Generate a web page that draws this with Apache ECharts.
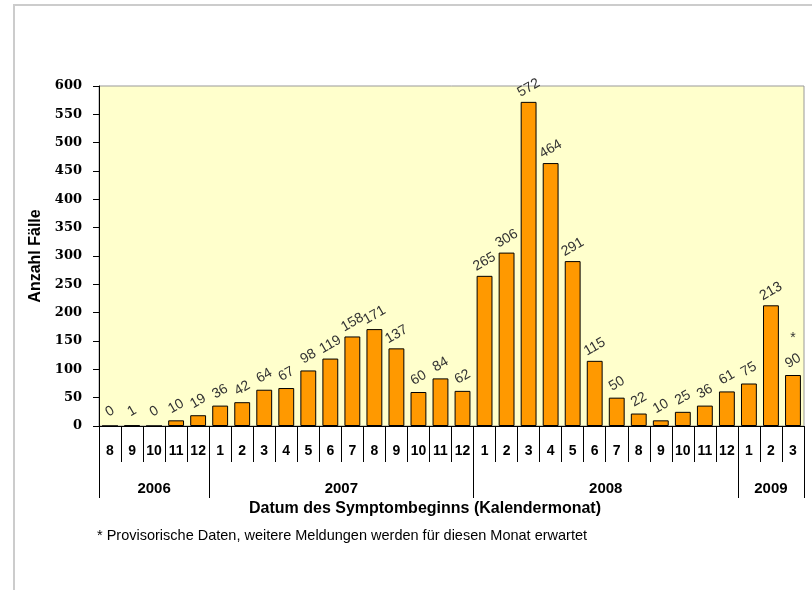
<!DOCTYPE html>
<html>
<head>
<meta charset="utf-8">
<script src="https://cdn.jsdelivr.net/npm/echarts@6/dist/echarts.min.js"></script>
<style>
  html, body { margin: 0; padding: 0; background: #fff; }
  #chart { width: 812px; height: 590px; }
</style>
</head>
<body>
<div id="chart"></div>
<script>
// Monthly case counts by month of symptom onset, Aug 2006 – Mar 2009
const months = ['8','9','10','11','12',
  '1','2','3','4','5','6','7','8','9','10','11','12',
  '1','2','3','4','5','6','7','8','9','10','11','12',
  '1','2','3'];
const cases = [0, 1, 0, 10, 19,
  36, 42, 64, 67, 98, 119, 158, 171, 137, 60, 84, 62,
  265, 306, 572, 464, 291, 115, 50, 22, 10, 25, 36, 61,
  75, 213, 90];
// Year groups: boundaries in month-slot units and label centres
const years = ['2006', '2007', '2008', '2009'];
const yearBounds = [0, 5, 17, 29, 32];
const yearCentres = [2.5, 11, 23, 30.5];
const yTicks = { min: 0, max: 600, step: 50 };
const provisionalIndex = 31;

const SANS = '"Liberation Sans", Arial, sans-serif';

const chart = echarts.init(document.getElementById('chart'), null, { renderer: 'canvas' });

const option = {
  animation: false,
  backgroundColor: '#ffffff',
  grid: {
    left: 99, right: 8, top: 86, bottom: 164,
    show: true, backgroundColor: '#FFFFCC', borderColor: '#999999', borderWidth: 1
  },
  xAxis: [
    {
      type: 'category',
      data: months,
      boundaryGap: true,
      axisLine: { show: true, lineStyle: { color: '#000', width: 1 } },
      axisTick: { show: true, interval: 0, length: 36, lineStyle: { color: '#000', width: 1 } },
      axisLabel: {
        interval: 0, margin: 18, color: '#000',
        fontFamily: SANS, fontWeight: 'bold', fontSize: 14
      },
      splitLine: { show: false }
    },
    {
      type: 'value',
      min: 0, max: 32,
      position: 'bottom',
      offset: 36,
      axisLine: { show: false },
      axisTick: { show: true, customValues: yearBounds, length: 36, lineStyle: { color: '#000', width: 1 } },
      axisLabel: {
        customValues: yearCentres, margin: 19, color: '#000',
        fontFamily: SANS, fontWeight: 'bold', fontSize: 15,
        formatter: function (v) {
          const i = yearCentres.indexOf(v);
          return i >= 0 ? years[i] : '';
        }
      },
      splitLine: { show: false }
    }
  ],
  yAxis: {
    type: 'value',
    min: yTicks.min, max: yTicks.max, interval: yTicks.step,
    name: 'Anzahl Fälle',
    nameLocation: 'middle',
    nameGap: 53,
    nameTextStyle: { fontFamily: SANS, fontWeight: 'bold', fontSize: 16, color: '#000' },
    axisLine: { show: true, lineStyle: { color: '#000', width: 1 } },
    axisTick: { show: true, length: 6, lineStyle: { color: '#000' } },
    axisLabel: {
      margin: 17, color: '#000',
      fontFamily: '"DejaVu Serif", "Liberation Serif", serif', fontWeight: 'bold', fontSize: 13
    },
    splitLine: { show: false }
  },
  series: [
    {
      type: 'bar',
      xAxisIndex: 0,
      data: cases,
      barCategoryGap: '28%',
      itemStyle: { color: '#FF9900', borderColor: '#000', borderWidth: 1 },
      label: {
        show: true,
        position: 'top',
        distance: 14,
        rotate: 30,
        align: 'center',
        verticalAlign: 'middle',
        color: '#333',
        fontFamily: SANS,
        fontSize: 14
      },
      markPoint: {
        symbol: 'circle',
        symbolSize: 0,
        silent: true,
        label: {
          show: true, formatter: '*', offset: [0, -37],
          color: '#333', fontFamily: SANS, fontSize: 14
        },
        data: [{ coord: [provisionalIndex, cases[provisionalIndex]] }]
      }
    }
  ],
  graphic: [
    {
      type: 'rect',
      shape: { x: 14, y: 5, width: 830, height: 620 },
      style: { fill: 'none', stroke: '#cccccc', lineWidth: 2 },
      silent: true, z: -1
    },
    {
      type: 'text',
      x: 425, y: 509,
      style: {
        text: 'Datum des Symptombeginns (Kalendermonat)',
        align: 'center', verticalAlign: 'middle',
        font: 'bold 16px ' + SANS, fill: '#000'
      }
    },
    {
      type: 'text',
      x: 97, y: 536,
      style: {
        text: '* Provisorische Daten, weitere Meldungen werden für diesen Monat erwartet',
        align: 'left', verticalAlign: 'middle',
        font: '14.5px ' + SANS, fill: '#000'
      }
    }
  ]
};

chart.setOption(option);
</script>
</body>
</html>
